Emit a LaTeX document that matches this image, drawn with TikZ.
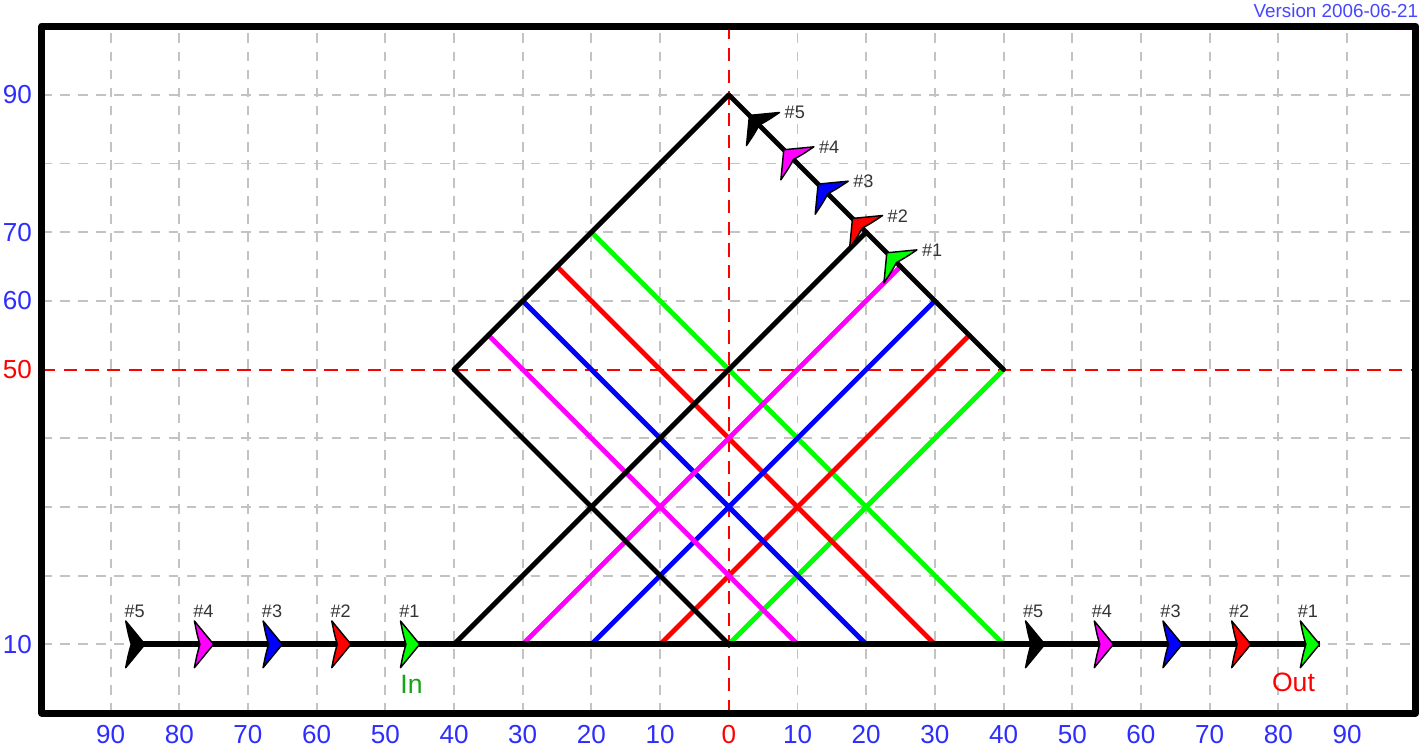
\documentclass[tikz,border=0pt]{standalone}
\usepackage{fontspec}
\setmainfont{Liberation Sans}
\definecolor{axisblue}{RGB}{45,45,255}
\definecolor{verblue}{RGB}{70,70,255}
\definecolor{gridgray}{RGB}{195,195,195}
\definecolor{ingreen}{RGB}{20,165,20}
\definecolor{rayred}{RGB}{255,0,0}
\definecolor{raygreen}{RGB}{0,255,0}
\definecolor{rayblue}{RGB}{0,0,255}
\definecolor{raymag}{RGB}{255,0,255}
\newcommand{\tagfont}{\fontsize{7.5}{9}\selectfont}
\newcommand{\axfont}{\fontsize{10.8}{12}\selectfont}
\newcommand{\verfont}{\fontsize{7.8}{9}\selectfont}
\tikzset{
  pics/dart/.style={code={
    \filldraw[fill=#1, draw=black, line width=0.6pt, line join=round]
      (0,0) -- (-2.8,3.4) .. controls (-2.4,1.4) .. (-2.0,0)
      .. controls (-2.4,-1.4) .. (-2.8,-3.4) -- cycle;}},
  gridline/.style={gridgray, line width=0.8pt, dash pattern=on 4pt off 3.5pt},
  axisline/.style={rayred, line width=0.8pt, dash pattern=on 5.5pt off 3.5pt},
  ray/.style={line width=2pt, line cap=round},
  axlabel/.style={font=\axfont, inner sep=0pt},
  taglabel/.style={font=\tagfont, text=black!80, inner sep=0pt}
}

\begin{document}
\begin{tikzpicture}[x=1mm, y=1mm]
  \useasboundingbox (-106.1,-5.1) rectangle (101.2,103.8);
  \foreach \i in {-90,-80,...,90} {\ifnum\i=0 \else \draw[gridline] (\i,0) -- (\i,100); \fi}
  \foreach \j in {10,20,...,90} {\ifnum\j=50 \else \draw[gridline] (-100,\j) -- (100,\j); \fi}
  \draw[axisline] (0,0) -- (0,100);
  \draw[axisline] (-100,50) -- (100,50);
  \foreach \c/\k in {raygreen/4, rayred/3, rayblue/2, raymag/1, black/0} {
    \draw[ray, \c] (-40+5*\k, 50+5*\k) -- (10*\k, 10);
    \draw[ray, \c] (-40+10*\k, 10) -- (20+5*\k, 70-5*\k);
  }
  \draw[ray, line join=round] (-40,50) -- (0,90) -- (40,50);
  \draw[line width=2.5pt] (-86,10) -- (86,10);
  \foreach \c/\n in {raygreen/1, rayred/2, rayblue/3, raymag/4, black/5} {
    \pic at (-35-10*\n, 10) {dart=\c};
    \pic at (96-10*\n, 10) {dart=\c};
    \pic[rotate=135] at (28-5*\n, 62+5*\n) {dart=\c};
    \node[taglabel] (inTag\n) at (-36.5-10*\n, 14.8) {\#\n};
    \node[taglabel] (outTag\n) at (94.3-10*\n, 14.8) {\#\n};
    \node[taglabel] (topTag\n) at (34.6-5*\n, 62.4+5*\n) {\#\n};
  }
  \draw[line width=2.9pt, line join=round] (-100,0) rectangle (100,100);
  \foreach \v [count=\i] in {-90,-80,...,90} {
    \pgfmathtruncatemacro\a{abs(\v)}
    \ifnum\v=0 \def\tc{rayred}\else\def\tc{axisblue}\fi
    \node[axlabel, text=\tc] (x\i) at (\v,-3.1) {\a};
  }
  \foreach \w/\tc in {90/axisblue, 70/axisblue, 60/axisblue, 50/rayred, 10/axisblue}
    \node[axlabel, text=\tc, anchor=east] (y\w) at (-101.4,\w) {\w};
  \node[font=\fontsize{11}{13}\selectfont, text=ingreen, inner sep=0pt] (in) at (-46.2,4.2) {In};
  \node[font=\fontsize{11}{13}\selectfont, text=rayred, inner sep=0pt] (out) at (82.2,4.4) {Out};
  \node[font=\verfont, text=verblue, anchor=east, inner sep=0pt] (version) at (100.4,102.3) {Version 2006-06-21};
\end{tikzpicture}
\end{document}
